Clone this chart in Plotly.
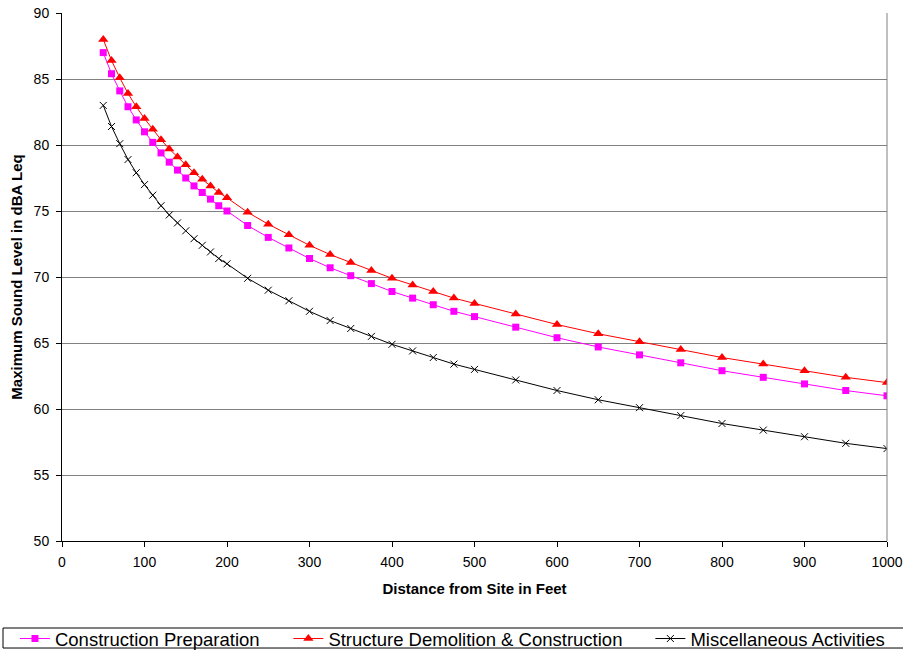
import plotly.graph_objects as go

# Distance from site (feet)
distance_ft = [50, 60, 70, 80, 90, 100, 110, 120, 130, 140, 150, 160, 170, 180, 190, 200,
               225, 250, 275, 300, 325, 350, 375, 400, 425, 450, 475, 500,
               550, 600, 650, 700, 750, 800, 850, 900, 950, 1000]

# Maximum sound level (dBA Leq) by activity
construction_prep = [87.0, 85.4, 84.1, 82.9, 81.9, 81.0, 80.2, 79.4, 78.7, 78.1, 77.5, 76.9,
                     76.4, 75.9, 75.4, 75.0, 73.9, 73.0, 72.2, 71.4, 70.7, 70.1, 69.5, 68.9,
                     68.4, 67.9, 67.4, 67.0, 66.2, 65.4, 64.7, 64.1, 63.5, 62.9, 62.4, 61.9,
                     61.4, 61.0]
demolition_construction = [88.0, 86.4, 85.1, 83.9, 82.9, 82.0, 81.2, 80.4, 79.7, 79.1, 78.5, 77.9,
                           77.4, 76.9, 76.4, 76.0, 74.9, 74.0, 73.2, 72.4, 71.7, 71.1, 70.5, 69.9,
                           69.4, 68.9, 68.4, 68.0, 67.2, 66.4, 65.7, 65.1, 64.5, 63.9, 63.4, 62.9,
                           62.4, 62.0]
misc_activities = [83.0, 81.4, 80.1, 78.9, 77.9, 77.0, 76.2, 75.4, 74.7, 74.1, 73.5, 72.9,
                   72.4, 71.9, 71.4, 71.0, 69.9, 69.0, 68.2, 67.4, 66.7, 66.1, 65.5, 64.9,
                   64.4, 63.9, 63.4, 63.0, 62.2, 61.4, 60.7, 60.1, 59.5, 58.9, 58.4, 57.9,
                   57.4, 57.0]

series_names = ["Construction Preparation",
                "Structure Demolition & Construction",
                "Miscellaneous Activities"]

x_ticks = [0, 100, 200, 300, 400, 500, 600, 700, 800, 900, 1000]
y_ticks = [50, 55, 60, 65, 70, 75, 80, 85, 90]

FONT = "Liberation Sans, Arial, sans-serif"

fig = go.Figure()
fig.add_trace(go.Scatter(
    x=distance_ft, y=construction_prep, name=series_names[0], mode="lines+markers",
    line=dict(color="#FF00FF", width=1),
    marker=dict(symbol="square", size=7, color="#FF00FF"),
    legend="legend",
))
fig.add_trace(go.Scatter(
    x=distance_ft, y=demolition_construction, name=series_names[1], mode="lines+markers",
    line=dict(color="#FF0000", width=1),
    marker=dict(symbol="triangle-up", size=9, color="#FF0000"),
    legend="legend2",
))
fig.add_trace(go.Scatter(
    x=distance_ft, y=misc_activities, name=series_names[2], mode="lines+markers",
    line=dict(color="#000000", width=1),
    marker=dict(symbol="x-thin", size=7, color="#000000",
                line=dict(color="#000000", width=1)),
    legend="legend3",
))

legend_common = dict(orientation="h", yanchor="middle", y=-0.1856, xanchor="left",
                     bgcolor="rgba(0,0,0,0)", borderwidth=0,
                     font=dict(family=FONT, size=18.5, color="#000000"))

fig.update_layout(
    width=903, height=650,
    margin=dict(l=62, r=16, t=13, b=109, autoexpand=False),
    paper_bgcolor="white", plot_bgcolor="white",
    font=dict(family=FONT, size=14, color="#000000"),
    showlegend=True,
    legend=dict(x=-0.057, **legend_common),
    legend2=dict(x=0.2744, **legend_common),
    legend3=dict(x=0.7132, **legend_common),
    xaxis=dict(
        range=[0, 1000], tickvals=x_ticks, ticktext=[str(v) for v in x_ticks],
        showgrid=False, zeroline=False,
        showline=True, linecolor="#000000", linewidth=1,
        ticks="outside", ticklen=5, tickcolor="#000000",
        ticklabelstandoff=3,
        tickfont=dict(family=FONT, size=14),
        title=dict(text="<b>Distance from Site in Feet</b>",
                   font=dict(family=FONT, size=15), standoff=14),
    ),
    yaxis=dict(
        range=[50, 90], tickvals=y_ticks, ticktext=[str(v) for v in y_ticks],
        showgrid=True, gridcolor="#808080", gridwidth=1, zeroline=False,
        showline=True, linecolor="#000000", linewidth=1,
        ticks="outside", ticklen=5, tickcolor="#000000",
        ticklabelstandoff=4,
        tickfont=dict(family=FONT, size=14),
        title=dict(text="<b>Maximum Sound Level in dBA Leq</b>",
                   font=dict(family=FONT, size=15), standoff=7),
    ),
    shapes=[
        # right edge of the plotting area
        dict(type="line", xref="paper", yref="paper", x0=1, x1=1, y0=0, y1=1,
             line=dict(color="#808080", width=1)),
        # frame around the legend row
        dict(type="rect", xref="paper", yref="paper",
             x0=-0.0715, x1=1.03, y0=-0.1648, y1=-0.2027,
             line=dict(color="#000000", width=1), fillcolor="rgba(0,0,0,0)"),
    ],
)

fig.write_html("out.html")
